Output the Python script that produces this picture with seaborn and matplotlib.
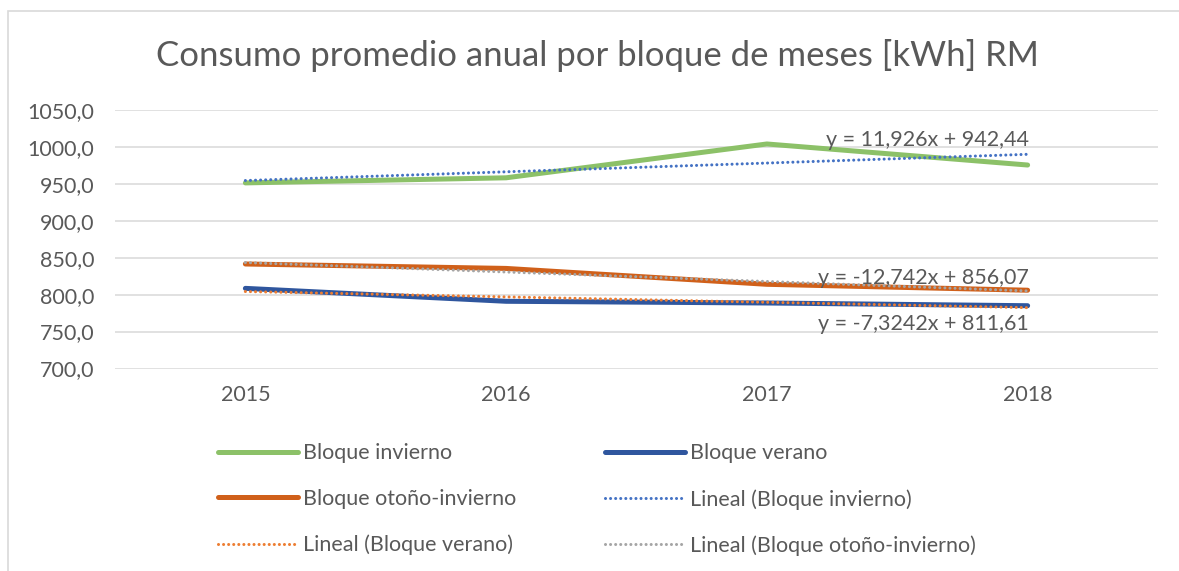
import matplotlib
matplotlib.use("Agg")
import matplotlib.pyplot as plt
import numpy as np
import pandas as pd
import seaborn as sns
from matplotlib.patches import Rectangle

YEARS = ["2015", "2016", "2017", "2018"]
INVIERNO = [951.3, 958.2, 1004.0, 975.5]
VERANO = [808.5, 791.0, 788.7, 785.0]
OTONO_INVIERNO = [841.5, 835.5, 814.0, 806.0]
EQUATIONS = ["y = 11,926x + 942,44", "y = -12,742x + 856,07", "y = -7,3242x + 811,61"]

GREY = "#595959"
sns.set_theme(style="white")
plt.rcParams["font.family"] = ["Lato", "DejaVu Sans"]

fig = plt.figure(figsize=(11.79, 5.71), dpi=100)
ax = fig.add_axes([115 / 1179, 1 - 368.5 / 571, 1043 / 1179, 258.5 / 571])

data = pd.DataFrame({"x": np.arange(len(YEARS)), "inv": INVIERNO, "ver": VERANO, "oto": OTONO_INVIERNO})

solid = dict(lw=3.6, solid_capstyle="round")
sns.lineplot(data, x="x", y="inv", color="#8CC168", label="Bloque invierno", ax=ax, **solid)
sns.lineplot(data, x="x", y="ver", color="#2F569E", label="Bloque verano", ax=ax, **solid)
sns.lineplot(data, x="x", y="oto", color="#D0601A", label="Bloque otoño-invierno", ax=ax, **solid)

dotted = dict(lw=2.2, linestyle=(0, (0.01, 1.65)), dash_capstyle="round")
sns.regplot(data, x="x", y="inv", scatter=False, ci=None, truncate=True, ax=ax,
            label="Lineal (Bloque invierno)", line_kws=dict(color="#4472C4", **dotted))
sns.regplot(data, x="x", y="ver", scatter=False, ci=None, truncate=True, ax=ax,
            label="Lineal (Bloque verano)", line_kws=dict(color="#ED7D31", **dotted))
sns.regplot(data, x="x", y="oto", scatter=False, ci=None, truncate=True, ax=ax,
            label="Lineal (Bloque otoño-invierno)", line_kws=dict(color="#A5A5A5", **dotted))

ax.set_xlim(-0.5, 3.5)
ax.set_ylim(700, 1050)
ax.set_yticks(np.arange(700, 1051, 50))
ax.set_yticklabels([f"{v:.1f}".replace(".", ",") for v in np.arange(700, 1051, 50)])
ax.set_xticks(range(len(YEARS)))
ax.set_xticklabels(YEARS)
ax.tick_params(axis="both", length=0, labelsize=15.5, labelcolor=GREY, pad=15)
ax.tick_params(axis="x", pad=12)
ax.set(xlabel="", ylabel="")
ax.grid(axis="y", color="#D9D9D9", lw=1.1)
ax.set_axisbelow(True)
for s in ax.spines.values():
    s.set_visible(False)

for txt, y in zip(EQUATIONS, [1009.5, 823, 760.8]):
    ax.text(3.006, y, txt, ha="right", va="center", fontsize=15.5, color=GREY)

fig.text(597 / 1179, 1 - 55 / 571, "Consumo promedio anual por bloque de meses [kWh] RM",
         ha="center", va="center", fontsize=25, color=GREY)

handles, labels = ax.get_legend_handles_labels()
ax.get_legend().remove()
order = [0, 2, 4, 1, 3, 5]
fig.legend([handles[i] for i in order], [labels[i] for i in order], ncol=2,
           loc="upper left", bbox_to_anchor=(199 / 1179, 1 - 424 / 571), frameon=False,
           fontsize=15.5, labelcolor=GREY, handlelength=3.7, handletextpad=0.25,
           columnspacing=4.1, labelspacing=1.19)

fig.patches.append(Rectangle((8 / 1179, -0.1), 1.2, 1.1 - 11 / 571, transform=fig.transFigure,
                             fill=False, edgecolor="#D9D9D9", lw=1.2))

fig.savefig("out.png", dpi=100)
